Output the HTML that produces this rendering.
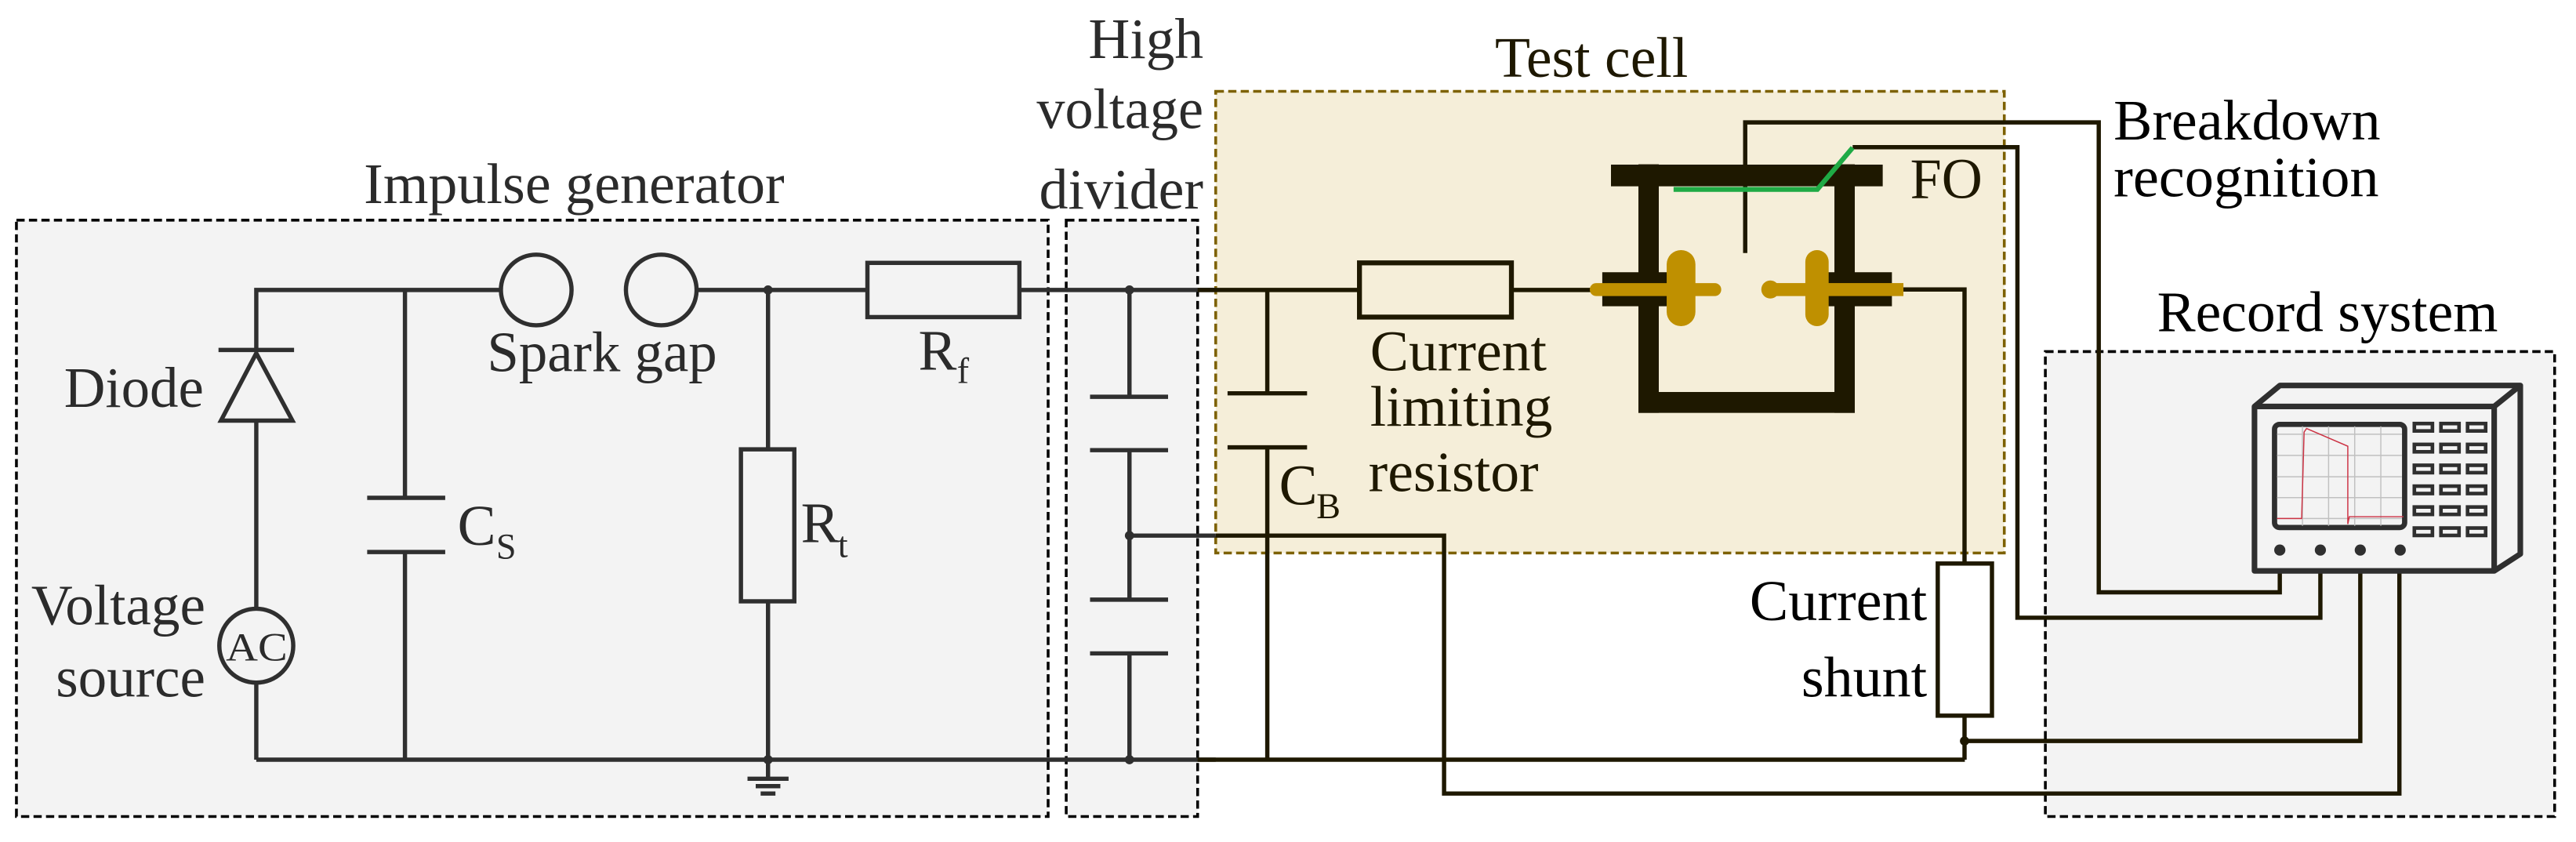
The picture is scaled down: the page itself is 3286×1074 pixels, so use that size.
<!DOCTYPE html>
<html><head><meta charset="utf-8"><style>html,body{margin:0;padding:0;background:#fff}svg{display:block}</style></head>
<body>
<svg width="3286" height="1074" viewBox="0 0 1568 512.5" preserveAspectRatio="none" xmlns="http://www.w3.org/2000/svg">
<rect x="10" y="134" width="628" height="363" fill="#f3f3f3" stroke="#000" stroke-width="1.7" stroke-dasharray="5,2.6"/>
<rect x="649" y="134" width="80" height="363" fill="#f3f3f3" stroke="#000" stroke-width="1.7" stroke-dasharray="5,2.6"/>
<rect x="1245" y="214" width="310" height="283" fill="#f3f3f3" stroke="#000" stroke-width="1.7" stroke-dasharray="5,2.6"/>
<rect x="740" y="55.6" width="480" height="281" fill="#f5eed9" stroke="#7d6100" stroke-width="1.7" stroke-dasharray="5,2.6"/>

<g stroke="#2f2f2f" stroke-width="2.6" fill="none">
<polyline points="156,213 156,176.5 304.5,176.5"/>
<line x1="246.5" y1="176.5" x2="246.5" y2="303"/>
<line x1="223.5" y1="303" x2="271" y2="303"/>
<line x1="223.5" y1="336" x2="271" y2="336"/>
<line x1="246.5" y1="336" x2="246.5" y2="462.4"/>
<line x1="133" y1="213" x2="179" y2="213"/>
<polygon points="156,215 134.5,256 178,256"/>
<line x1="156" y1="256" x2="156" y2="370"/>
<circle cx="156" cy="393" r="22.5"/>
<line x1="156" y1="416" x2="156" y2="462.4"/>
<circle cx="326.4" cy="176.5" r="21.5"/>
<circle cx="402.5" cy="176.5" r="21.5"/>
<line x1="424" y1="176.5" x2="528" y2="176.5"/>
<rect x="528" y="160" width="92.5" height="33"/>
<line x1="620.5" y1="176.5" x2="740" y2="176.5"/>
<line x1="467.5" y1="176.5" x2="467.5" y2="273.5"/>
<rect x="451" y="273.5" width="32.5" height="92.5"/>
<line x1="467.5" y1="366" x2="467.5" y2="474"/>
<line x1="455" y1="474" x2="480" y2="474"/>
<line x1="460" y1="478.5" x2="475" y2="478.5"/>
<line x1="463" y1="483" x2="472" y2="483"/>
<line x1="156" y1="462.4" x2="740" y2="462.4"/>
<line x1="687.5" y1="176.5" x2="687.5" y2="241.5"/>
<line x1="663.5" y1="241.5" x2="711" y2="241.5"/>
<line x1="663.5" y1="274" x2="711" y2="274"/>
<line x1="687.5" y1="274" x2="687.5" y2="365"/>
<line x1="663.5" y1="365" x2="711" y2="365"/>
<line x1="663.5" y1="397.7" x2="711" y2="397.7"/>
<line x1="687.5" y1="397.7" x2="687.5" y2="462.4"/>
<line x1="687.5" y1="326" x2="740" y2="326"/>
</g>
<g fill="#2f2f2f"><circle cx="467.5" cy="176.5" r="2.8"/><circle cx="467.5" cy="462.4" r="2.8"/><circle cx="687.5" cy="176.5" r="2.8"/><circle cx="687.5" cy="326" r="2.8"/><circle cx="687.5" cy="462.4" r="2.8"/></g>

<g stroke="#1e1800" stroke-width="2.6" fill="none">
<line x1="729" y1="176.5" x2="827.5" y2="176.5"/>
<line x1="729" y1="462.4" x2="1196" y2="462.4"/>
<line x1="771.4" y1="176.5" x2="771.4" y2="239.4"/>
<line x1="747.2" y1="239.4" x2="795.6" y2="239.4"/>
<line x1="747.2" y1="272.3" x2="795.6" y2="272.3"/>
<line x1="771.4" y1="272.3" x2="771.4" y2="462.4"/>
<rect x="827.5" y="160" width="92.5" height="33" stroke-width="3"/>
<line x1="920" y1="176.5" x2="968" y2="176.5"/>
<polyline points="1158,176.2 1195.8,176.2 1195.8,343"/>
<rect x="1179.5" y="343" width="33" height="92.6"/>
<line x1="1195.8" y1="435.6" x2="1195.8" y2="462.4"/>
<polyline points="740,326 879,326 879,483 1460.5,483 1460.5,335"/>
<polyline points="1195.8,451 1436.7,451 1436.7,335"/>
<polyline points="1062.3,154 1062.3,74.5 1277.5,74.5 1277.5,360.5 1387.7,360.5 1387.7,335"/>
<polyline points="1127.7,89.6 1228,89.6 1228,376 1412.4,376 1412.4,335"/>
</g>
<circle cx="1195.8" cy="451" r="2.8" fill="#1e1800"/>

<g fill="#1e1800">
<rect x="980.6" y="100.2" width="165.4" height="13.2"/>
<rect x="997.3" y="100" width="12.4" height="151.3"/>
<rect x="1116.6" y="100" width="12.4" height="151.3"/>
<rect x="997.3" y="238.6" width="131.7" height="12.7"/>
<rect x="975.3" y="165.7" width="46.8" height="20.7"/>
<rect x="1105.9" y="165.7" width="45.7" height="20.7"/>
</g>
<g fill="#bf9000">
<rect x="967.7" y="172.3" width="80" height="7.9" rx="3.9"/>
<rect x="1014.5" y="152.2" width="17.5" height="46.3" rx="8.7"/>
<rect x="1098.9" y="152.2" width="14.2" height="46.3" rx="7.1"/>
<rect x="1077" y="172.3" width="81.6" height="7.9"/>
<circle cx="1077.6" cy="176.2" r="5.5"/>
</g>
<polyline points="1018.7,115.3 1106.2,115.3 1127.7,89.9" stroke="#1faa45" stroke-width="3" fill="none"/>

<g stroke="#2f2f2f" stroke-width="3.4" fill="none" stroke-linejoin="round">
<polygon points="1372.3,247.4 1387.8,234.6 1534.1,234.6 1534.1,337.2 1518.2,347.5 1372.3,347.5" fill="#f3f3f3"/>
<polyline points="1372.3,247.4 1518.2,247.4 1534.1,234.6"/>
<line x1="1518.2" y1="247.4" x2="1518.2" y2="347.5"/>
</g>
<rect x="1384.5" y="258.3" width="79.2" height="62.8" rx="3" fill="#f3f3f3" stroke="#2f2f2f" stroke-width="3.2"/>
<g stroke="#c0c0c0" stroke-width="0.7">
<line x1="1401.5" y1="259.5" x2="1401.5" y2="320"/><line x1="1417.4" y1="259.5" x2="1417.4" y2="320"/><line x1="1433.3" y1="259.5" x2="1433.3" y2="320"/><line x1="1449.2" y1="259.5" x2="1449.2" y2="320"/>
<line x1="1386" y1="264.3" x2="1462" y2="264.3"/><line x1="1386" y1="277.2" x2="1462" y2="277.2"/><line x1="1386" y1="290.2" x2="1462" y2="290.2"/><line x1="1386" y1="302.9" x2="1462" y2="302.9"/><line x1="1386" y1="315.6" x2="1462" y2="315.6"/>
</g>
<polyline points="1386,315.6 1401,315.6 1402.5,263 1404,260.8 1429.1,271.6 1429.1,319 1430,314.5 1463,314.5" fill="none" stroke="#cc3344" stroke-width="0.7"/>
<g fill="none" stroke="#2f2f2f" stroke-width="2.2">
<rect x="1469.6" y="257.8" width="11" height="4.5"/><rect x="1485.8" y="257.8" width="11" height="4.5"/><rect x="1502" y="257.8" width="11" height="4.5"/>
<rect x="1469.6" y="270.5" width="11" height="4.5"/><rect x="1485.8" y="270.5" width="11" height="4.5"/><rect x="1502" y="270.5" width="11" height="4.5"/>
<rect x="1469.6" y="283.2" width="11" height="4.5"/><rect x="1485.8" y="283.2" width="11" height="4.5"/><rect x="1502" y="283.2" width="11" height="4.5"/>
<rect x="1469.6" y="295.9" width="11" height="4.5"/><rect x="1485.8" y="295.9" width="11" height="4.5"/><rect x="1502" y="295.9" width="11" height="4.5"/>
<rect x="1469.6" y="308.6" width="11" height="4.5"/><rect x="1485.8" y="308.6" width="11" height="4.5"/><rect x="1502" y="308.6" width="11" height="4.5"/>
<rect x="1469.6" y="321.4" width="11" height="4.5"/><rect x="1485.8" y="321.4" width="11" height="4.5"/><rect x="1502" y="321.4" width="11" height="4.5"/>
</g>
<g fill="#2f2f2f"><circle cx="1387.7" cy="334.8" r="3.4"/><circle cx="1412.4" cy="334.8" r="3.4"/><circle cx="1436.7" cy="334.8" r="3.4"/><circle cx="1461" cy="334.8" r="3.4"/></g>

<g fill="#2b2b2b" font-size="35" font-family="Liberation Serif">
<text x="221.5" y="123.5" textLength="256" lengthAdjust="spacingAndGlyphs">Impulse generator</text>
<text x="662.5" y="35.3" textLength="70" lengthAdjust="spacingAndGlyphs">High</text>
<text x="631" y="78" textLength="101.5" lengthAdjust="spacingAndGlyphs">voltage</text>
<text x="632.5" y="127" textLength="100" lengthAdjust="spacingAndGlyphs">divider</text>
<text x="296.5" y="226" textLength="140" lengthAdjust="spacingAndGlyphs">Spark gap</text>
<text x="39" y="247.7" textLength="85" lengthAdjust="spacingAndGlyphs">Diode</text>
<text x="19" y="380" textLength="106" lengthAdjust="spacingAndGlyphs">Voltage</text>
<text x="34" y="424" textLength="91" lengthAdjust="spacingAndGlyphs">source</text>
<text x="137.5" y="402" font-size="24" textLength="37.5" lengthAdjust="spacingAndGlyphs">AC</text>
<text x="278.5" y="331.7">C</text><text x="302" y="340" font-size="22">S</text>
<text x="487.5" y="330">R</text><text x="510" y="339" font-size="22">t</text>
<text x="559" y="225">R</text><text x="582.5" y="233" font-size="22">f</text>
</g>
<g fill="#1e1800" font-size="35" font-family="Liberation Serif">
<text x="778.6" y="307">C</text><text x="801.3" y="315.4" font-size="22">B</text>
<text x="910" y="46.7" textLength="117.5" lengthAdjust="spacingAndGlyphs">Test cell</text>
<text x="834" y="225.5" textLength="107.5" lengthAdjust="spacingAndGlyphs">Current</text>
<text x="834" y="259" textLength="111" lengthAdjust="spacingAndGlyphs">limiting</text>
<text x="833" y="299" textLength="103.5" lengthAdjust="spacingAndGlyphs">resistor</text>
<text x="1162.7" y="120.6" textLength="44" lengthAdjust="spacingAndGlyphs">FO</text>
</g>
<g fill="#000" font-size="35" font-family="Liberation Serif">
<text x="1286.5" y="85" textLength="162.5" lengthAdjust="spacingAndGlyphs">Breakdown</text>
<text x="1286.5" y="119.5" textLength="161.5" lengthAdjust="spacingAndGlyphs">recognition</text>
<text x="1313" y="201.6" textLength="207.5" lengthAdjust="spacingAndGlyphs">Record system</text>
<text x="1065" y="377.5" textLength="108" lengthAdjust="spacingAndGlyphs">Current</text>
<text x="1096.5" y="424" textLength="76.5" lengthAdjust="spacingAndGlyphs">shunt</text>
</g>
</svg>
</body></html>
